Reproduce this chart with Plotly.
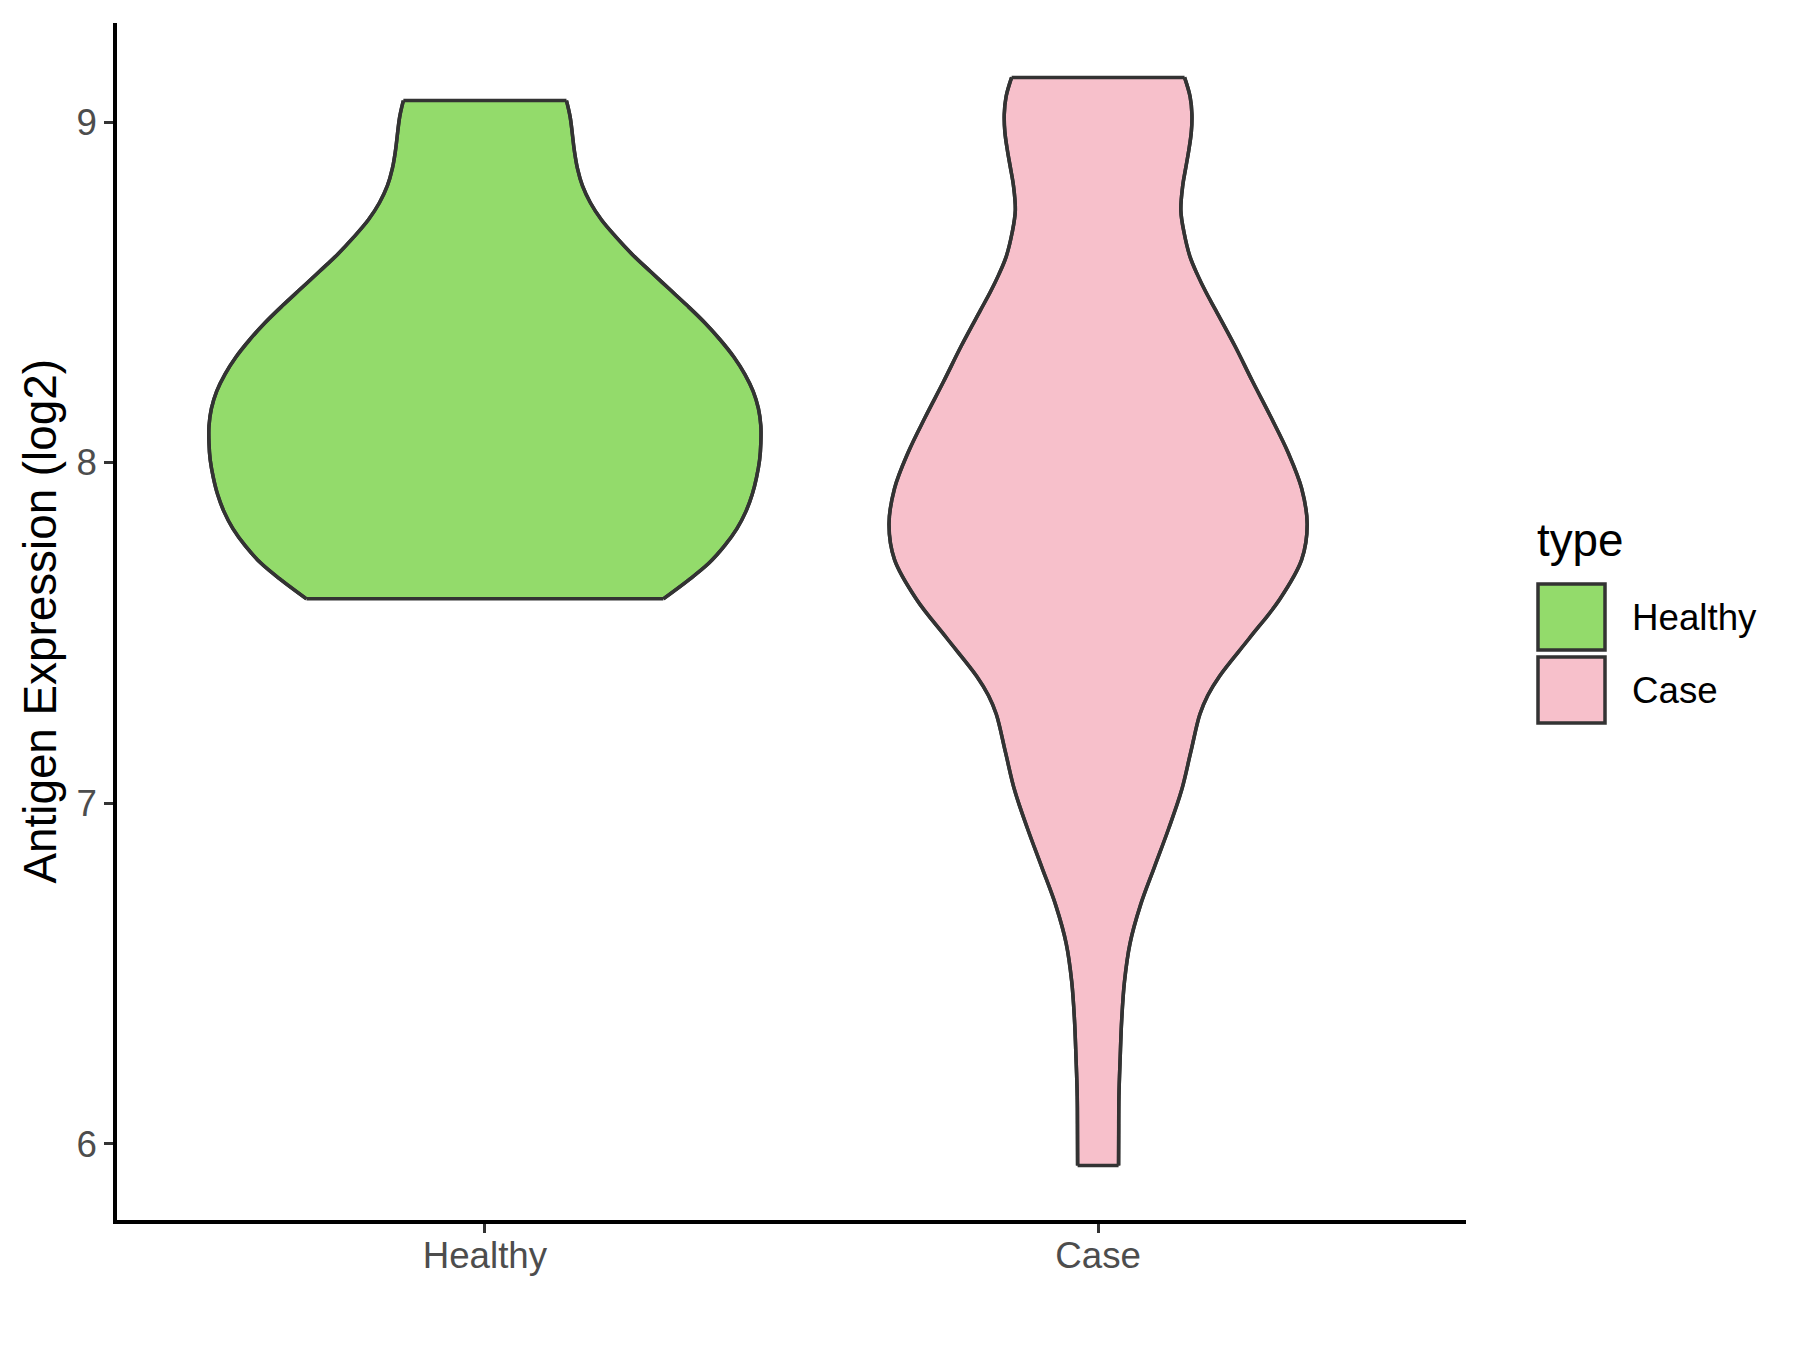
import plotly.graph_objects as go

# ---------------- data ----------------
categories = ["Healthy", "Case"]
fill_colors = ["#93DB6B", "#F7C0CB"]

# violin outline: y level (log2 expression) and half-width of the density
healthy_y = [9.063, 9.015, 8.914, 8.863, 8.813, 8.763, 8.713, 8.662, 8.612, 8.561,
             8.511, 8.461, 8.410, 8.360, 8.310, 8.259, 8.209, 8.159, 8.108, 8.058,
             8.008, 7.957, 7.907, 7.856, 7.806, 7.756, 7.705, 7.655, 7.600]
healthy_w = [0.133, 0.139, 0.146, 0.151, 0.159, 0.172, 0.190, 0.214, 0.240, 0.270,
             0.300, 0.330, 0.359, 0.384, 0.406, 0.424, 0.4375, 0.446, 0.450, 0.450,
             0.448, 0.443, 0.436, 0.4255, 0.411, 0.391, 0.3655, 0.332, 0.291]

case_y = [9.131, 9.075, 9.023, 8.970, 8.918, 8.866, 8.813, 8.740, 8.677, 8.604,
          8.552, 8.500, 8.447, 8.343, 8.238, 8.133, 8.029, 7.924, 7.819, 7.715,
          7.598, 7.485, 7.373, 7.317, 7.261, 7.149, 7.037, 6.925, 6.813, 6.700,
          6.588, 6.476, 6.364, 6.252, 6.140, 6.028, 5.936]
case_w = [0.141, 0.150, 0.153, 0.152, 0.148, 0.143, 0.138, 0.135, 0.140, 0.150,
          0.162, 0.176, 0.192, 0.223, 0.252, 0.282, 0.310, 0.332, 0.341, 0.332,
          0.296, 0.247, 0.198, 0.179, 0.166, 0.151, 0.136, 0.115, 0.092, 0.069,
          0.052, 0.043, 0.0385, 0.036, 0.034, 0.0336, 0.0334]

y_ticks = [6, 7, 8, 9]
y_title = "Antigen Expression (log2)"
legend_title = "type"

# ---------------- figure ----------------
W, H = 1800, 1350
OFF = 8  # page body margin offset
L, R, T, B = 117 - OFF, 334 + OFF, 23 - OFF, 130 + OFF
OUTLINE = "#333333"
LW = 3.5

fig = go.Figure()
profiles = [(healthy_y, healthy_w), (case_y, case_w)]
for i, (ys, ws) in enumerate(profiles):
    c = i + 1
    left_x = [c - w for w in ws]
    right_x = [c + w for w in ws]
    fig.add_trace(go.Scatter(x=left_x, y=ys, mode="lines",
                             line=dict(color=OUTLINE, width=LW, shape="spline", smoothing=1),
                             showlegend=False, hoverinfo="skip"))
    fig.add_trace(go.Scatter(x=right_x, y=ys, mode="lines", fill="tonextx",
                             fillcolor=fill_colors[i],
                             line=dict(color=OUTLINE, width=LW, shape="spline", smoothing=1),
                             showlegend=False, hoverinfo="skip"))
    # flat top and bottom edges (trimmed density)
    for k in (0, -1):
        fig.add_trace(go.Scatter(x=[left_x[k], right_x[k]], y=[ys[k], ys[k]], mode="lines",
                                 line=dict(color=OUTLINE, width=LW),
                                 showlegend=False, hoverinfo="skip"))

# redraw outlines on top of fills
for i, (ys, ws) in enumerate(profiles):
    c = i + 1
    for sgn in (-1, 1):
        fig.add_trace(go.Scatter(x=[c + sgn * w for w in ws], y=ys, mode="lines",
                                 line=dict(color=OUTLINE, width=LW, shape="spline", smoothing=1),
                                 showlegend=False, hoverinfo="skip"))

all_y = healthy_y + case_y
ymin, ymax = min(all_y), max(all_y)
pad = 0.05 * (ymax - ymin)

fig.update_xaxes(range=[0.4, 2.6], tickvals=[1, 2], ticktext=categories,
                 showline=True, linecolor="black", linewidth=3.5, mirror=False,
                 ticks="outside", ticklen=9, tickwidth=3, tickcolor=OUTLINE,
                 ticklabelstandoff=-9,
                 tickfont=dict(family="Liberation Sans, Arial", size=36.7, color="#4D4D4D"),
                 showgrid=False, zeroline=False)
fig.update_yaxes(range=[ymin - pad, ymax + pad], tickvals=y_ticks,
                 showline=True, linecolor="black", linewidth=3.5,
                 ticks="outside", ticklen=9, tickwidth=3, tickcolor=OUTLINE,
                 tickfont=dict(family="Liberation Sans, Arial", size=36.7, color="#4D4D4D"),
                 showgrid=False, zeroline=False)

pw, ph = W - L - R, H - T - B
def px(x):
    return (x - OFF - L) / pw
def py(y):
    return (H - B - (y - OFF)) / ph

annotations = [
    dict(text=y_title, x=px(40), y=0.5, xref="paper", yref="paper", textangle=-90,
         showarrow=False, xanchor="center", yanchor="middle",
         font=dict(family="Liberation Sans, Arial", size=45.8, color="black")),
    dict(text=legend_title, x=px(1535), y=py(540), xref="paper", yref="paper",
         showarrow=False, xanchor="left", yanchor="middle",
         font=dict(family="Liberation Sans, Arial", size=45.8, color="black")),
]
shapes = []
key_tops = [584, 657]
for i, cat in enumerate(categories):
    t = key_tops[i]
    shapes.append(dict(type="rect", xref="paper", yref="paper",
                       x0=px(1538), x1=px(1605), y0=py(t + 66), y1=py(t),
                       fillcolor=fill_colors[i], line=dict(color=OUTLINE, width=3.5)))
    annotations.append(dict(text=cat, x=px(1630), y=py(t + 33), xref="paper", yref="paper",
                            showarrow=False, xanchor="left", yanchor="middle",
                            font=dict(family="Liberation Sans, Arial", size=36.7, color="black")))

fig.update_layout(width=W, height=H, margin=dict(l=L, r=R, t=T, b=B),
                  plot_bgcolor="white", paper_bgcolor="white",
                  showlegend=False, annotations=annotations, shapes=shapes)

fig.write_html("out.html")
